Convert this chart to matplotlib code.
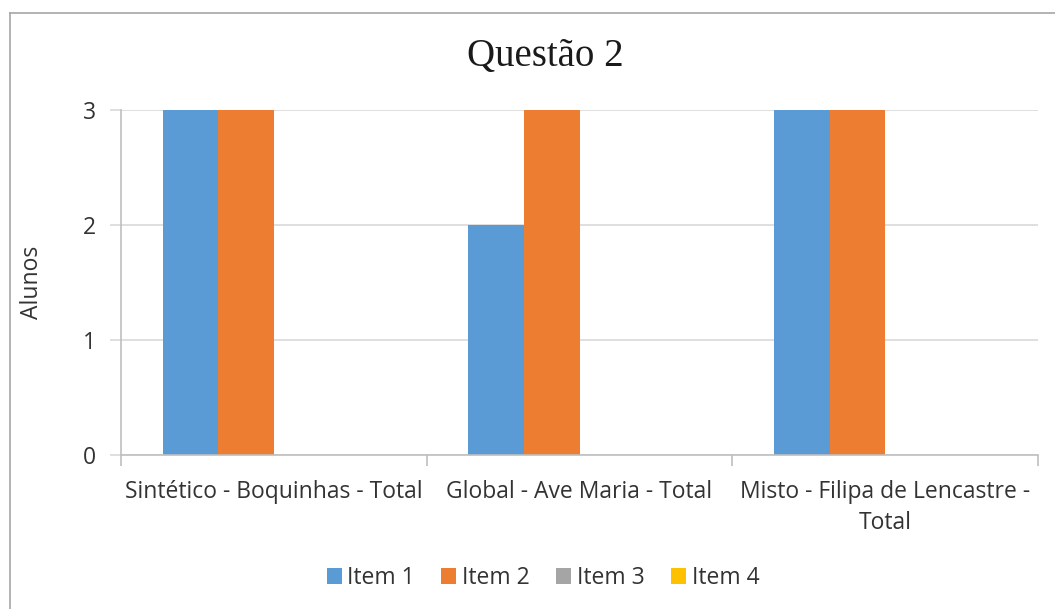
import matplotlib.pyplot as plt
from matplotlib.lines import Line2D
import numpy as np

categories = ["Sintético - Boquinhas - Total", "Global - Ave Maria - Total",
              "Misto - Filipa de Lencastre -\nTotal"]
series_names = ["Item 1", "Item 2", "Item 3", "Item 4"]
item1 = [3, 2, 3]
item2 = [3, 3, 3]
item3 = [0, 0, 0]
item4 = [0, 0, 0]
colors = ["#5B9BD5", "#ED7D31", "#A5A5A5", "#FFC000"]

plt.rcParams['font.family'] = ['Open Sans', 'DejaVu Sans']

fig = plt.figure(figsize=(10.55, 6.09), dpi=100)
ax = fig.add_axes([121 / 1055, 1 - 455 / 609, (1038 - 121) / 1055, (455 - 110) / 609])

x = np.arange(len(categories))
w = 1 / 5.5
for k, (vals, name) in enumerate(zip([item1, item2, item3, item4], series_names)):
    ax.bar(x + (k - 1.5) * w, vals, width=w, color=colors[k], label=name,
           linewidth=0, zorder=2)

ax.set_xlim(-0.5, 2.5)
ax.set_ylim(0, 3)
ax.set_yticks([0, 1, 2, 3])
ax.grid(axis='y', color='#D9D9D9', linewidth=1.2, zorder=0)
ax.set_xticks(x)
ax.set_xticklabels(categories, fontsize=16.5, color='#333333', linespacing=1.4)
ax.set_xticks([-0.5, 0.5, 1.5, 2.5], minor=True)
ax.tick_params(axis='x', which='major', length=0, pad=18)
ax.tick_params(axis='x', which='minor', length=8, color='#BFBFBF', width=1.2)
ax.tick_params(axis='y', length=8, color='#D9D9D9', width=1.2, labelsize=16.5,
               labelcolor='#333333', pad=10)
for s in ['top', 'right']:
    ax.spines[s].set_visible(False)
ax.spines['bottom'].set_color('#BFBFBF')
ax.spines['left'].set_color('#BFBFBF')
ax.spines['bottom'].set_linewidth(1.2)
ax.spines['left'].set_linewidth(1.2)
ax.set_ylabel("Alunos", fontsize=16.5, color='#333333', labelpad=28)

fig.text(545 / 1055, 1 - 57 / 609, "Questão 2", family='Liberation Serif',
         fontsize=28, ha='center', va='center', color='#1a1a1a')

# outer chart frame (partly cut off at right and bottom)
fig.add_artist(Line2D([10 / 1055, 10 / 1055], [0, 1 - 13 / 609], transform=fig.transFigure,
                      color='#A6A6A6', linewidth=1.2))
fig.add_artist(Line2D([10 / 1055, 1], [1 - 13 / 609, 1 - 13 / 609], transform=fig.transFigure,
                      color='#A6A6A6', linewidth=1.2))

fig.legend(loc='center', bbox_to_anchor=(543 / 1055, 1 - 578 / 609), ncol=4, frameon=False,
           fontsize=16.5, handlelength=0.65, handleheight=0.65, handletextpad=0.25,
           columnspacing=1.15, labelcolor='#333333')

fig.savefig("out.png", dpi=100, facecolor='white')
